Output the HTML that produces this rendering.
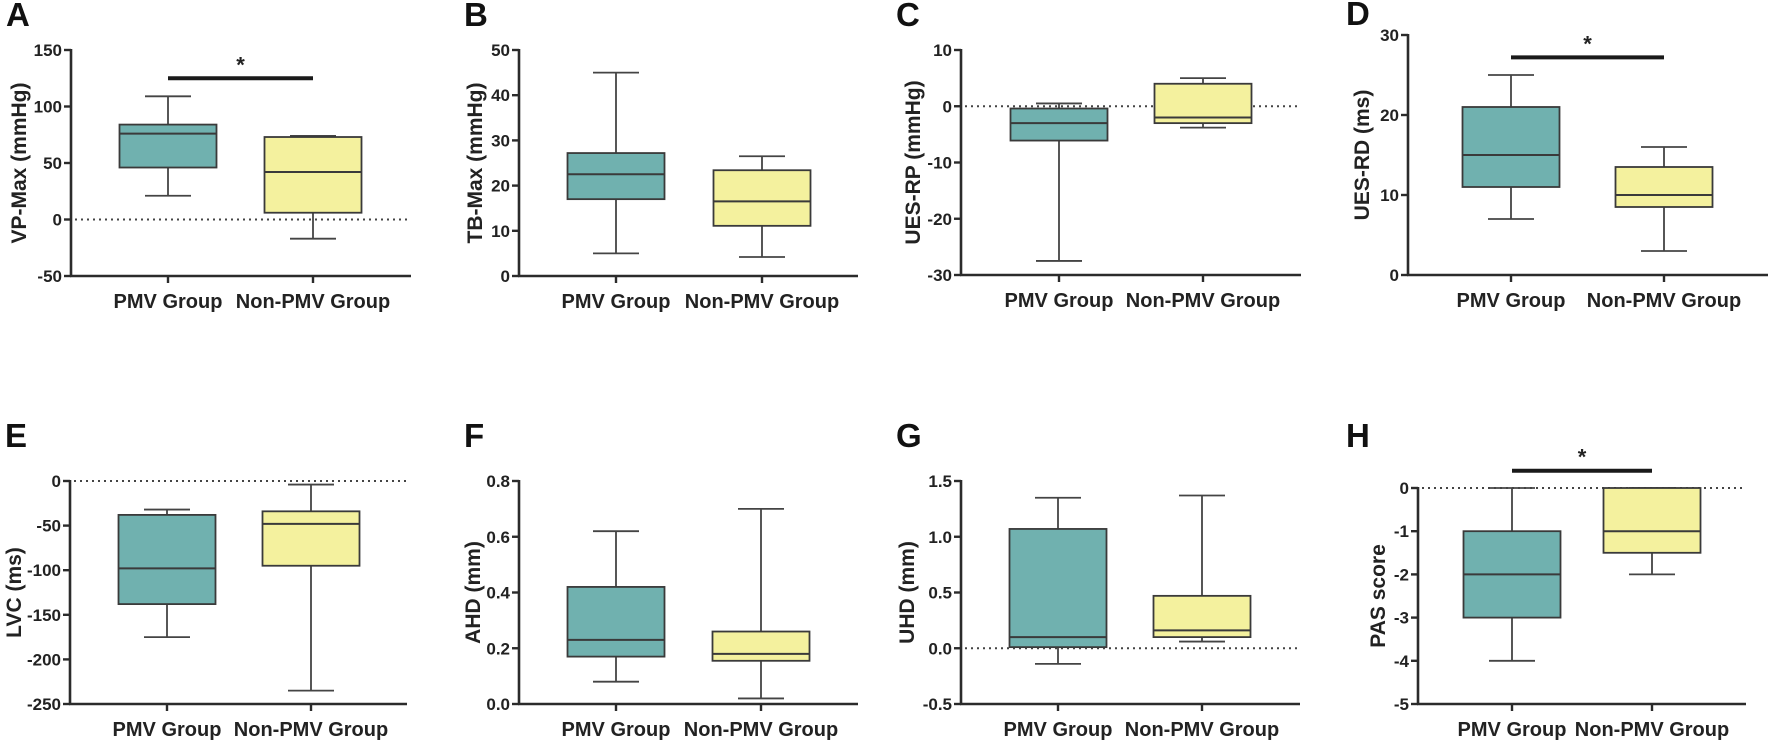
<!DOCTYPE html>
<html><head><meta charset="utf-8">
<style>
html,body{margin:0;padding:0;background:#fff;}
svg{display:block;font-family:"Liberation Sans",Arial,sans-serif;}
</style></head>
<body>
<svg id="fig" width="1772" height="744" viewBox="0 0 1772 744" xmlns="http://www.w3.org/2000/svg"></svg>
<script>
// ---- data (min, q1, median, q3, max) ----
const categories = ["PMV Group", "Non-PMV Group"];
const panelLetters = ["A","B","C","D","E","F","G","H"];
const axisTitles = ["VP-Max (mmHg)","TB-Max (mmHg)","UES-RP (mmHg)","UES-RD (ms)","LVC (ms)","AHD (mm)","UHD (mm)","PAS score"];
const pmvValues = [
  [21, 46, 76, 84, 109],
  [5, 17, 22.5, 27.2, 45],
  [-27.5, -6.1, -3, -0.4, 0.5],
  [7, 11, 15, 21, 25],
  [-175, -138, -98, -38, -32],
  [0.08, 0.17, 0.23, 0.42, 0.62],
  [-0.14, 0.01, 0.1, 1.07, 1.35],
  [-4, -3, -2, -1, 0]
];
const nonPmvValues = [
  [-17, 6, 42, 73, 74],
  [4.2, 11.1, 16.5, 23.4, 26.5],
  [-3.8, -3, -2, 4, 5],
  [3, 8.5, 10, 13.5, 16],
  [-235, -95, -48, -34, -4],
  [0.02, 0.155, 0.18, 0.26, 0.70],
  [0.06, 0.1, 0.16, 0.47, 1.37],
  [-2, -1.5, -1, 0, 0]
];
const tickValues = [
  [-50, 0, 50, 100, 150],
  [0, 10, 20, 30, 40, 50],
  [-30, -20, -10, 0, 10],
  [0, 10, 20, 30],
  [-250, -200, -150, -100, -50, 0],
  [0, 0.2, 0.4, 0.6, 0.8],
  [-0.5, 0, 0.5, 1.0, 1.5],
  [-5, -4, -3, -2, -1, 0]
];
const tickLabels = [
  ["-50","0","50","100","150"],
  ["0","10","20","30","40","50"],
  ["-30","-20","-10","0","10"],
  ["0","10","20","30"],
  ["-250","-200","-150","-100","-50","0"],
  ["0.0","0.2","0.4","0.6","0.8"],
  ["-0.5","0.0","0.5","1.0","1.5"],
  ["-5","-4","-3","-2","-1","0"]
];
const significant = [true, false, false, true, false, false, false, true];
const sigValues = [125, null, null, 27.2, null, null, null, 0.4];
const zeroLine = [true, false, true, false, true, false, true, true];

// ---- layout (pixels) ----
const layout = [
  {ax:71, ar:411, top:50, bot:276, c1:168, c2:313, lx:6, ly:26, tx:19},
  {ax:519, ar:858, top:50, bot:276, c1:616, c2:762, lx:464, ly:26, tx:475},
  {ax:961, ar:1301, top:50, bot:275, c1:1059, c2:1203, lx:896, ly:26, tx:913},
  {ax:1408, ar:1768, top:35, bot:275, c1:1511, c2:1664, lx:1346, ly:25, tx:1362},
  {ax:70, ar:407, top:481, bot:704, c1:167, c2:311, lx:5, ly:447, tx:14},
  {ax:519, ar:858, top:481, bot:704, c1:616, c2:761, lx:464, ly:447, tx:473},
  {ax:961, ar:1300, top:481, bot:704, c1:1058, c2:1202, lx:896, ly:447, tx:907},
  {ax:1418, ar:1746, top:488, bot:704, c1:1512, c2:1652, lx:1346, ly:447, tx:1378}
];
const NS = "http://www.w3.org/2000/svg";
const svg = document.getElementById("fig");
function mk(tag, attrs, parent){
  const e = document.createElementNS(NS, tag);
  for (const k in attrs) e.setAttribute(k, attrs[k]);
  (parent||svg).appendChild(e);
  return e;
}
const BOXW = 97, CAPW = 46, INK = "#2b2b2b";
for (let p = 0; p < 8; p++) {
  const L = layout[p];
  const tv = tickValues[p];
  const lo = tv[0], hi = tv[tv.length-1];
  const y = v => L.bot - (v - lo) / (hi - lo) * (L.bot - L.top);
  const g = mk("g", {});
  
  
  const letter = mk("text", {x:L.lx, y:L.ly, "font-size":33, "font-weight":"bold", fill:"#111"}, g);
  letter.textContent = panelLetters[p];
  
  
  if (zeroLine[p]) {
    const zl = mk("line", {x1:L.ax+4, x2:L.ar, y1:y(0), y2:y(0), stroke:"#444", "stroke-width":2, "stroke-dasharray":"2 4"}, g);
    
    
  }
  const series = [pmvValues[p], nonPmvValues[p]];
  const centers = [L.c1, L.c2];
  const fills = ["#70B1AF", "#F4F19E"];
  for (let s = 0; s < 2; s++) {
    const d = series[s], cx = centers[s];
    const bg = mk("g", {}, g);
    
    
    mk("line", {x1:cx, x2:cx, y1:y(d[0]), y2:y(d[4]), stroke:"#444", "stroke-width":1.8}, bg);
    mk("line", {x1:cx-CAPW/2, x2:cx+CAPW/2, y1:y(d[0]), y2:y(d[0]), stroke:"#444", "stroke-width":1.8}, bg);
    mk("line", {x1:cx-CAPW/2, x2:cx+CAPW/2, y1:y(d[4]), y2:y(d[4]), stroke:"#444", "stroke-width":1.8}, bg);
    mk("rect", {x:cx-BOXW/2, y:y(d[3]), width:BOXW, height:Math.max(1, y(d[1])-y(d[3])), fill:fills[s], stroke:"#3a3a3a", "stroke-width":1.8}, bg);
    mk("line", {x1:cx-BOXW/2, x2:cx+BOXW/2, y1:y(d[2]), y2:y(d[2]), stroke:"#3a3a3a", "stroke-width":2}, bg);
  }
  const yAxis = mk("line", {x1:L.ax, x2:L.ax, y1:L.top-1, y2:L.bot+1, stroke:INK, "stroke-width":2.6}, g);
  
  
  const xAxis = mk("line", {x1:L.ax-1, x2:L.ar, y1:L.bot, y2:L.bot, stroke:INK, "stroke-width":2.6}, g);
  
  
  for (let i = 0; i < tv.length; i++) {
    mk("line", {x1:L.ax-7, x2:L.ax, y1:y(tv[i]), y2:y(tv[i]), stroke:INK, "stroke-width":2.4}, g);
    const t = mk("text", {x:L.ax-9, y:y(tv[i])+6, "font-size":17, "font-weight":"bold", "text-anchor":"end", fill:"#222"}, g);
    t.textContent = tickLabels[p][i];
    
    
  }
  for (let s = 0; s < 2; s++) {
    mk("line", {x1:centers[s], x2:centers[s], y1:L.bot, y2:L.bot+7, stroke:INK, "stroke-width":2.4}, g);
    const t = mk("text", {x:centers[s], y:L.bot+32, "font-size":20, "font-weight":"bold", "text-anchor":"middle", fill:"#222"}, g);
    t.textContent = categories[s];
    
    
  }
  const ym = (L.top + L.bot) / 2;
  const at = mk("text", {x:L.tx, y:ym, "font-size":21, "font-weight":"bold", "text-anchor":"middle", fill:"#222", transform:"rotate(-90 "+L.tx+" "+ym+")", dy:7}, g);
  at.textContent = axisTitles[p];
  
  
  if (significant[p]) {
    const sy = y(sigValues[p]);
    const sb = mk("line", {x1:L.c1, x2:L.c2, y1:sy, y2:sy, stroke:"#1a1a1a", "stroke-width":4}, g);
    
    
    const st = mk("text", {x:(L.c1+L.c2)/2, y:sy-6, "font-size":22, "font-weight":"bold", "text-anchor":"middle", fill:"#222"}, g);
    st.textContent = "*";
    
    
  }
}
</script>
</body></html>
